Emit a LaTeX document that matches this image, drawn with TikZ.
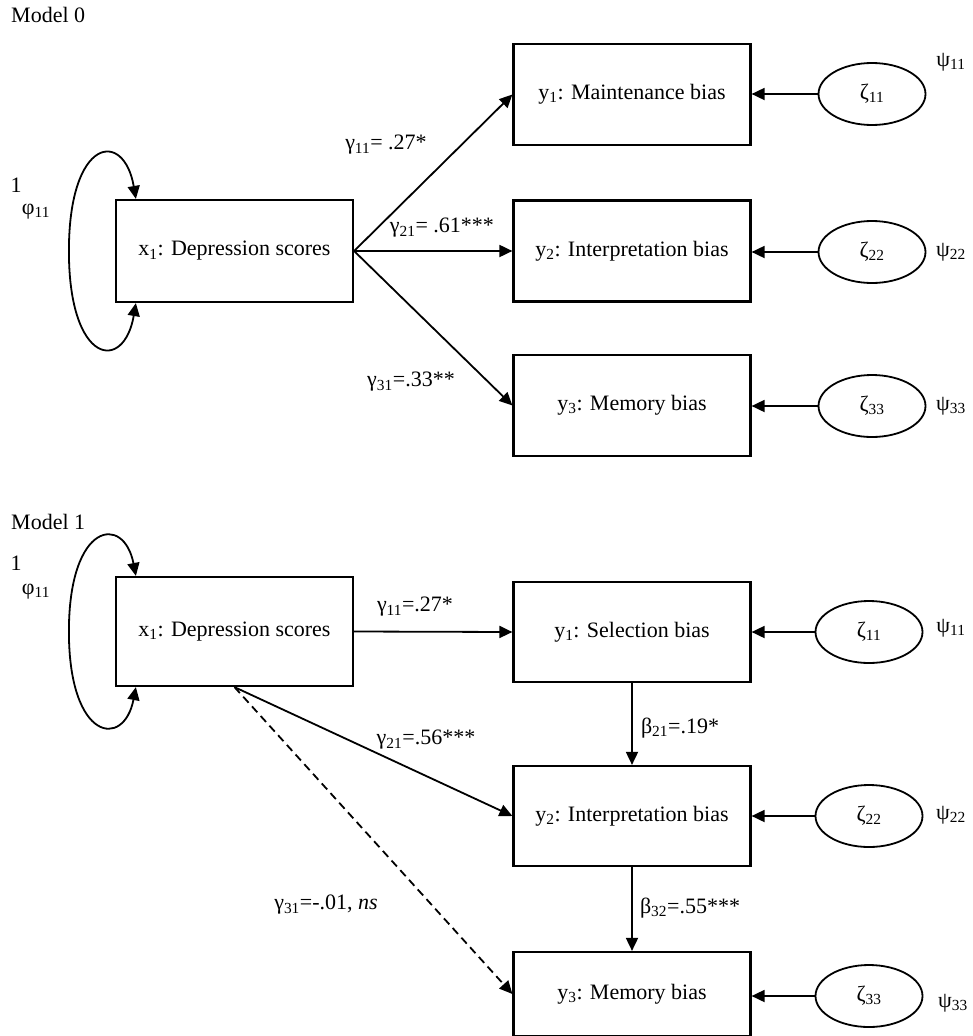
\documentclass[tikz,border=0pt]{standalone}
\usepackage{fontspec}
\setmainfont{Liberation Serif}
\usetikzlibrary{arrows.meta,shapes.geometric}
\tikzstyle{var}=[draw,rectangle,line width=2.2pt,minimum width=237pt,minimum height=101pt,inner sep=0pt]
\tikzstyle{err}=[draw,ellipse,line width=1.8pt,minimum width=107pt,minimum height=62pt,inner sep=0pt]
\tikzstyle{arr}=[-{Triangle[length=13pt,width=12pt]},line width=1.8pt]
\tikzstyle{loop}=[{Triangle[length=13pt,width=12pt]}-{Triangle[length=13pt,width=12pt]},line width=1.8pt]
\tikzstyle{lab}=[inner sep=0pt]
\newcommand{\sub}[1]{\textsubscript{#1}}

\begin{document}
\begin{tikzpicture}[x=1pt,y=-1pt,font=\fontsize{22}{26}\selectfont]
    \useasboundingbox (0,0) rectangle (972,1036);
    % Model 0
    \node[lab,anchor=west] (m0) at (11,15) {Model 0};
    \node[var,minimum height=102pt] (x1a) at (234.5,251) {x\sub{1}: Depression scores};
    \node[var] (y1a) at (632,94.5) {y\sub{1}: Maintenance bias};
    \node[var] (y2a) at (632,251) {y\sub{2}: Interpretation bias};
    \node[var] (y3a) at (632,405.5) {y\sub{3}: Memory bias};
    \node[err] (z1a) at (872,94) {ζ\sub{11}};
    \node[err] (z2a) at (872,252) {ζ\sub{22}};
    \node[err] (z3a) at (872,406) {ζ\sub{33}};
    \node[lab] (one0) at (16,185) {1};
    \node[lab] (phi0) at (36,212) {φ\sub{11}};
    \node[lab] (psi1a) at (951,62) {ψ\sub{11}};
    \node[lab] (psi2a) at (951,252) {ψ\sub{22}};
    \node[lab] (psi3a) at (951,406) {ψ\sub{33}};
    \node[lab] (g11a) at (386,145) {γ\sub{11}= .27*};
    \node[lab] (g21a) at (442,228) {γ\sub{21}= .61***};
    \node[lab] (g31a) at (411,382) {γ\sub{31}=.33**};
    \draw[arr] (x1a.east) -- (y1a.west);
    \draw[arr] (x1a.east) -- (y2a.west);
    \draw[arr] (x1a.east) -- (y3a.west);
    \draw[arr] (z1a.west) -- (y1a.east |- z1a.west);
    \draw[arr] (z2a.west) -- (y2a.east |- z2a.west);
    \draw[arr] (z3a.west) -- (y3a.east |- z3a.west);
    \draw[loop] ([xshift=21pt]x1a.north west) .. controls +(-12,-70) and +(0,-114) .. ([xshift=-46pt]x1a.west)
      .. controls +(0,114) and +(-12,70) .. ([xshift=21pt]x1a.south west);
    % Model 1
    \node[lab,anchor=west] (m1) at (11,522) {Model 1};
    \node[var,minimum height=109pt] (x1b) at (234.5,631.5) {x\sub{1}: Depression scores};
    \node[var,minimum height=100pt] (y1b) at (632,632) {y\sub{1}: Selection bias};
    \node[var,minimum height=100pt] (y2b) at (632,816) {y\sub{2}: Interpretation bias};
    \node[var,minimum height=84pt] (y3b) at (632,994) {y\sub{3}: Memory bias};
    \node[err] (z1b) at (869,632) {ζ\sub{11}};
    \node[err] (z2b) at (869,816) {ζ\sub{22}};
    \node[err] (z3b) at (869,996) {ζ\sub{33}};
    \node[lab] (one1) at (16,563) {1};
    \node[lab] (phi1) at (36,592) {φ\sub{11}};
    \node[lab] (psi1b) at (951,628) {ψ\sub{11}};
    \node[lab] (psi2b) at (951,815) {ψ\sub{22}};
    \node[lab] (psi3b) at (953,1003) {ψ\sub{33}};
    \node[lab] (g11b) at (415,607) {γ\sub{11}=.27*};
    \node[lab] (g21b) at (426,740) {γ\sub{21}=.56***};
    \node[lab] (b21b) at (680,728) {β\sub{21}=.19*};
    \node[lab] (b32b) at (690,908) {β\sub{32}=.55***};
    \node[lab] (g31b) at (326,905) {γ\sub{31}=-.01, \textit{ns}};
    \draw[arr] (x1b.east) -- (y1b.west);
    \draw[arr] (x1b.south) -- (y2b.west);
    \draw[arr,dashed,dash pattern=on 8pt off 5pt] (x1b.south) -- (y3b.west);
    \draw[arr] (y1b.south) -- (y2b.north);
    \draw[arr] (y2b.south) -- (y3b.north);
    \draw[arr] (z1b.west) -- (y1b.east |- z1b.west);
    \draw[arr] (z2b.west) -- (y2b.east |- z2b.west);
    \draw[arr] (z3b.west) -- (y3b.east |- z3b.west);
    \draw[loop] ([xshift=21pt]x1b.north west) .. controls +(-12,-62) and +(0,-110) .. ([xshift=-46pt]x1b.west)
      .. controls +(0,110) and +(-12,62) .. ([xshift=21pt]x1b.south west);
\end{tikzpicture}
\end{document}
